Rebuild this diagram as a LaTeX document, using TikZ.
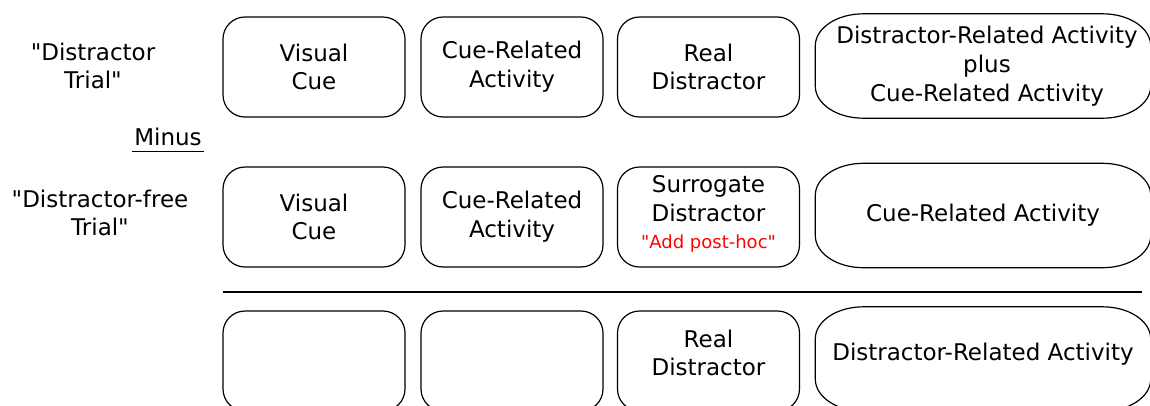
\documentclass[tikz,border=0pt]{standalone}
\usepackage{fontspec}
\setmainfont{DejaVu Sans}[Ligatures=TeXOff]

\begin{document}
\begin{tikzpicture}[
    x=1pt, y=-1pt,
    every node/.style={font=\fontsize{23}{28.8}\selectfont, align=center},
    stage/.style={draw, line width=1.2pt, rounded corners=22pt,
        minimum width=182pt, minimum height=100pt, inner sep=0pt},
    result/.style={minimum width=335pt, minimum height=104pt, inner sep=0pt},
    frame/.style={draw, line width=1.2pt},
]

% Page size (bottom row runs off the page)
\useasboundingbox (0,0) rectangle (1150,405);
\clip (0,0) rectangle (1150,405);

% Parameters
\def\rowA{67}
\def\rowB{217}
\def\rowC{361}
\def\rx{48pt}
\def\ry{32pt}

% === Row labels ===
\node (lblA) at (93,\rowA-1) {"Distractor\\Trial"};
\node[inner sep=2pt] (minus) at (168,137) {Minus};
\draw[line width=1.2pt] ([yshift=-3pt]minus.south west) -- ([yshift=-3pt]minus.south east);
\node (lblB) at (100,213) {"Distractor-free\\Trial"};

% === Distractor trial ===
\node[stage] (cueA) at (314,\rowA) {Visual\\Cue};
\node[stage] (actA) at (512,\rowA) {Cue-Related\\Activity};
\node[stage] (disA) at (708.5,\rowA) {Real\\Distractor};
\node[result] (sumA) at (983,\rowA-1) {};
\node (sumAtxt) at ([xshift=4pt]sumA.center)
    {Distractor-Related Activity\\plus\\Cue-Related Activity};

% === Distractor-free trial ===
\node[stage] (cueB) at (314,\rowB) {Visual\\Cue};
\node[stage] (actB) at (512,\rowB) {Cue-Related\\Activity};
\node[stage] (disB) at (708.5,\rowB) {};
\node (disBtxt) at ([yshift=3pt]disB.center)
    {Surrogate\\Distractor\\[-1pt]{\color{red}\fontsize{18}{20}\selectfont "Add post-hoc"}};
\node[result] (sumB) at (983,\rowB-1.5) {Cue-Related Activity};

% Difference line
\coordinate (lineL) at (223,292);
\coordinate (lineR) at (1142,292);
\draw[line width=1.2pt] (lineL) -- (lineR);

% === Difference ===
\node[stage] (cueC) at (314,\rowC) {};
\node[stage] (actC) at (512,\rowC) {};
\node[stage] (disC) at (708.5,\rowC) {};
\node (disCtxt) at ([yshift=8pt]disC.center) {Real\\Distractor};
\node[result] (sumC) at (983,\rowC-2) {};
\node (sumCtxt) at ([yshift=5pt]sumC.center) {Distractor-Related Activity};

% Result frames with oval corners
\foreach \n in {sumA,sumB,sumC} {
    \draw[frame] ([xshift=\rx]\n.north west) -- ([xshift=-\rx]\n.north east)
        arc[start angle=90, end angle=0, x radius=\rx, y radius=\ry]
        -- ([yshift=\ry]\n.south east)
        arc[start angle=0, end angle=-90, x radius=\rx, y radius=\ry]
        -- ([xshift=\rx]\n.south west)
        arc[start angle=-90, end angle=-180, x radius=\rx, y radius=\ry]
        -- ([yshift=-\ry]\n.north west)
        arc[start angle=180, end angle=90, x radius=\rx, y radius=\ry]
        -- cycle;
}

\end{tikzpicture}
\end{document}
